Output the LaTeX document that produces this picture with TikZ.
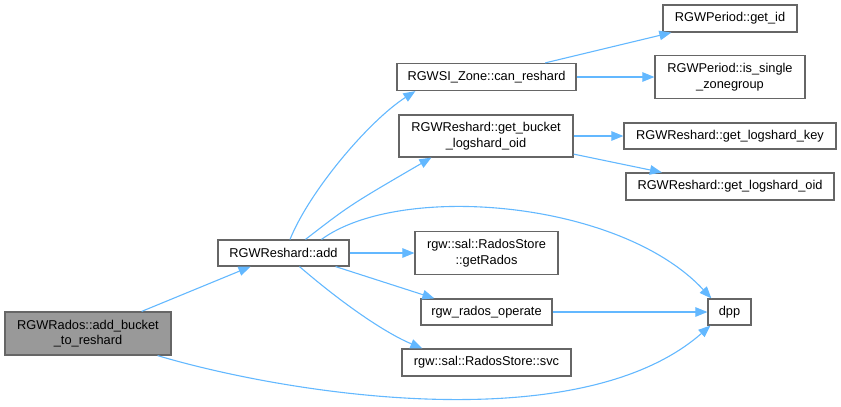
\documentclass[tikz,border=0pt]{standalone}
\usepackage{fontspec}
\setmainfont{Liberation Sans}
\usetikzlibrary{arrows.meta}
\definecolor{edgeblue}{HTML}{63B8FF}
\definecolor{boxborder}{HTML}{666666}
\definecolor{curfill}{HTML}{999999}
\begin{document}
\begin{tikzpicture}[x=1pt,y=-1pt,
  fnbox/.style={draw=boxborder,line width=1.2pt,fill=white,inner sep=0pt,align=center,
    font=\fontsize{12.8}{15.4}\selectfont,text=black},
  edge/.style={draw=edgeblue,line width=1.1pt,-{Triangle[length=12pt,width=9.5pt]}}]
\useasboundingbox (0,0) rectangle (841,407);
\node[fnbox,fill=curfill,minimum width=166pt,minimum height=43pt] (rados) at (88,333.5) {RGWRados::add\_bucket\\\_to\_reshard};
\node[fnbox,minimum width=131pt,minimum height=26pt] (add) at (283.5,253) {RGWReshard::add};
\node[fnbox,minimum width=179pt,minimum height=27pt] (can) at (486.5,77) {RGWSI\_Zone::can\_reshard};
\node[fnbox,minimum width=134pt,minimum height=27pt] (getid) at (730,18.5) {RGWPeriod::get\_id};
\node[fnbox,minimum width=150pt,minimum height=43pt] (single) at (730,77) {RGWPeriod::is\_single\\\_zonegroup};
\node[fnbox,minimum width=174pt,minimum height=42pt] (bucketoid) at (486,136) {RGWReshard::get\_bucket\\\_logshard\_oid};
\node[fnbox,minimum width=212pt,minimum height=26pt] (key) at (730,136) {RGWReshard::get\_logshard\_key};
\node[fnbox,minimum width=208pt,minimum height=27pt] (oid) at (730,186.5) {RGWReshard::get\_logshard\_oid};
\node[fnbox,minimum width=143pt,minimum height=43pt] (getrados) at (486.5,253) {rgw::sal::RadosStore\\::getRados};
\node[fnbox,minimum width=131pt,minimum height=26pt] (operate) at (486.5,312) {rgw\_rados\_operate};
\node[fnbox,minimum width=169pt,minimum height=27pt] (svc) at (486.5,362.5) {rgw::sal::RadosStore::svc};
\node[fnbox,minimum width=43pt,minimum height=26pt] (dpp) at (729.5,312) {dpp};

\draw[edge] (rados) -- (add);
\draw[edge] ([xshift=-14pt]rados.south east) .. controls (290,395) and (580,440) .. ([xshift=3pt]dpp.south west);
\draw[edge] ([xshift=6.5pt]add.north) .. controls (310,190) and (370,120) .. ([xshift=19pt]can.south west);
\draw[edge] ([xshift=22pt]add.north) .. controls (350,205) .. ([xshift=33pt]bucketoid.south west);
\draw[edge] ([xshift=38pt]add.north) .. controls (400,182) and (620,200) .. ([xshift=4pt]dpp.north west);
\draw[edge] (add) -- (getrados);
\draw[edge] ([xshift=-14pt]add.south east) -- ([xshift=14pt]operate.north west);
\draw[edge] ([xshift=16pt]add.south) .. controls (350,310) and (390,335) .. ([xshift=21pt]svc.north west);
\draw[edge] (operate) -- (dpp);
\draw[edge] (can) -- (getid);
\draw[edge] (can) -- (single);
\draw[edge] (bucketoid) -- (key);
\draw[edge] (bucketoid) -- (oid);
\end{tikzpicture}
\end{document}
